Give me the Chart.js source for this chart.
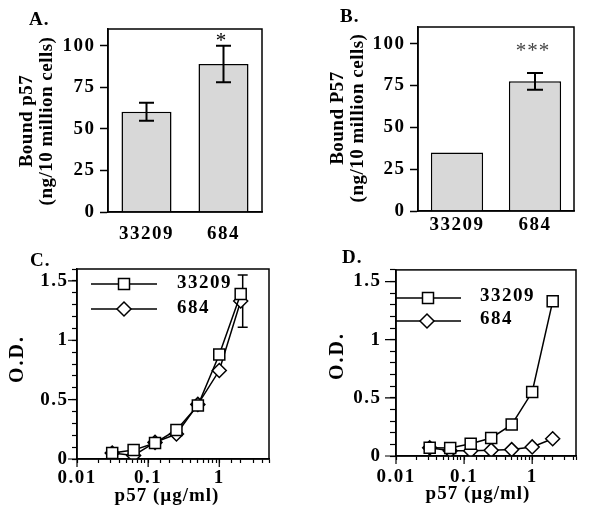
<!DOCTYPE html>
<html>
<head>
<meta charset="utf-8">
<title>p57 binding</title>
<script src="https://cdn.jsdelivr.net/npm/chart.js@4.4.1/dist/chart.umd.min.js"></script>
<style>
  html, body { margin: 0; padding: 0; background: #fff; }
  #fig { position: relative; width: 589px; height: 519px; overflow: hidden; }
  #fig canvas { position: absolute; }
</style>
</head>
<body>
<div id="fig">
  <canvas id="panelA" width="290" height="250" style="left:0;top:0"></canvas>
  <canvas id="panelB" width="299" height="250" style="left:290px;top:0"></canvas>
  <canvas id="panelC" width="290" height="269" style="left:0;top:250px"></canvas>
  <canvas id="panelD" width="299" height="269" style="left:290px;top:250px"></canvas>
</div>
<script>
// --- data ---
const strains = ["33209", "684"];
const boundA = [60.3, 89];      // ng / 10 million cells
const errA = [5.4, 11];
const boundB = [35, 77.5];
const errB = [0, 5];
const sigA = ["", "*"];
const sigB = ["", "***"];
const boundTicks = [0, 25, 50, 75, 100];

const dose = [0.03125, 0.0625, 0.125, 0.25, 0.5, 1, 2];   // p57 ug/ml
const odC33209 = [0.05, 0.075, 0.135, 0.245, 0.45, 0.88, 1.39];
const odC684 = [0.05, 0.03, 0.14, 0.21, 0.46, 0.745, 1.33];
const errC684 = [0, 0, 0, 0, 0, 0, 0.22];
const odD33209 = [0.07, 0.068, 0.105, 0.155, 0.27, 0.55, 1.33];
const odD684 = [0.07, 0.045, 0.045, 0.05, 0.055, 0.078, 0.148];
const odTicks = [0, 0.5, 1, 1.5];
const doseTicks = [0.01, 0.1, 1];

const SERIF = "'Liberation Serif', 'Times New Roman', serif";
const near = (list, v) => list.find(t => Math.abs(t - v) < 1e-9);

function drawMarker(ctx, style, x, y) {
  ctx.beginPath();
  if (style === "rect") {
    ctx.rect(x - 5.5, y - 5.5, 11, 11);
  } else {
    ctx.moveTo(x - 7, y); ctx.lineTo(x, y - 7); ctx.lineTo(x + 7, y); ctx.lineTo(x, y + 7);
    ctx.closePath();
  }
  ctx.fillStyle = "#fff";
  ctx.fill();
  ctx.lineWidth = 1.5;
  ctx.strokeStyle = "#000";
  ctx.stroke();
}

function drawErrors(chart, e) {
  const ctx = chart.ctx;
  const ys = chart.scales.y;
  const meta = chart.getDatasetMeta(e.dataset);
  const vals = chart.data.datasets[e.dataset].data;
  ctx.save();
  ctx.strokeStyle = "#000";
  ctx.lineWidth = e.width;
  e.values.forEach((err, i) => {
    if (!err) return;
    const v = typeof vals[i] === "object" ? vals[i].y : vals[i];
    const x = meta.data[i].x + (e.dx || 0);
    const top = ys.getPixelForValue(v + err);
    const bot = ys.getPixelForValue(v - err);
    ctx.beginPath();
    ctx.moveTo(x, top); ctx.lineTo(x, bot);
    ctx.moveTo(x - e.cap, top); ctx.lineTo(x + e.cap, top);
    ctx.moveTo(x - e.cap, bot); ctx.lineTo(x + e.cap, bot);
    ctx.stroke();
  });
  ctx.restore();
}

// frame, error bars, long major ticks, inset legend and panel texts
function decor(cfg) {
  return {
    id: "decor",
    beforeDraw(chart) { chart.ctx.letterSpacing = "0px"; },
    beforeDatasetsDraw(chart) {
      if (cfg.errors && cfg.errors.behind) drawErrors(chart, cfg.errors);
    },
    afterDatasetsDraw(chart) {
      if (cfg.errors && !cfg.errors.behind) drawErrors(chart, cfg.errors);
      chart.ctx.letterSpacing = "1.5px"; // tick labels (z: 1) are drawn next
    },
    afterDraw(chart) {
      const ctx = chart.ctx;
      const a = chart.chartArea;
      ctx.save();
      ctx.letterSpacing = "0px";
      ctx.strokeStyle = "#000";
      ctx.lineWidth = 1.5;
      ctx.strokeRect(a.left, a.top, a.right - a.left, a.bottom - a.top);

      if (cfg.majors) {
        ctx.lineWidth = 1.2;
        ctx.beginPath();
        cfg.majors.y.forEach(v => {
          const y = chart.scales.y.getPixelForValue(v);
          ctx.moveTo(a.left - cfg.majors.yLen, y); ctx.lineTo(a.left, y);
        });
        cfg.majors.x.forEach(v => {
          const x = chart.scales.x.getPixelForValue(v);
          ctx.moveTo(x, a.bottom); ctx.lineTo(x, a.bottom + cfg.majors.xLen);
        });
        ctx.stroke();
      }

      if (cfg.sig) {
        const meta = chart.getDatasetMeta(0);
        ctx.font = "21px " + SERIF;
        ctx.fillStyle = cfg.sig.color;
        ctx.textAlign = "center";
        ctx.textBaseline = "alphabetic";
        ctx.letterSpacing = "1px";
        cfg.sig.labels.forEach((s, i) => {
          if (!s) return;
          ctx.fillText(s, meta.data[i].x - 2, chart.scales.y.getPixelForValue(cfg.sig.at) + 10);
        });
      }

      (cfg.legend || []).forEach(l => {
        ctx.strokeStyle = "#000";
        ctx.lineWidth = 1.5;
        ctx.beginPath();
        ctx.moveTo(l.x1, l.y); ctx.lineTo(l.x2, l.y);
        ctx.stroke();
        drawMarker(ctx, l.style, l.mx, l.y);
        ctx.font = "bold 19px " + SERIF;
        ctx.fillStyle = "#000";
        ctx.textAlign = "left";
        ctx.textBaseline = "middle";
        ctx.letterSpacing = "1.5px";
        ctx.fillText(l.label, l.tx, l.ty);
      });

      (cfg.texts || []).forEach(t => {
        ctx.save();
        ctx.font = "bold " + (t.size || 19) + "px " + SERIF;
        ctx.fillStyle = "#000";
        ctx.letterSpacing = (t.sp === undefined ? 0.5 : t.sp) + "px";
        ctx.textAlign = t.align || "center";
        ctx.textBaseline = "middle";
        ctx.translate(t.x, t.y);
        if (t.rot) ctx.rotate(t.rot);
        ctx.fillText(t.text, 0, 0);
        ctx.restore();
      });
      ctx.restore();
      ctx.letterSpacing = "0px";
    },
  };
}

const axisBorder = { color: "#000", width: 1.5 };
const tickFont = { family: SERIF, size: 19, weight: "bold" };

function boundChart(id, values, p) {
  return new Chart(document.getElementById(id), {
    type: "bar",
    data: {
      labels: strains,
      datasets: [{
        data: values,
        backgroundColor: "#d8d8d8",
        borderColor: "#000",
        borderWidth: 1.5,
        barPercentage: p.barPct,
        categoryPercentage: 1,
      }],
    },
    options: {
      responsive: false,
      animation: false,
      devicePixelRatio: 1,
      layout: { padding: { left: 0, top: p.top, right: p.right, bottom: 0 } },
      plugins: { legend: { display: false }, tooltip: { enabled: false } },
      scales: {
        x: {
          border: axisBorder,
          grid: { display: false, drawTicks: false },
          ticks: { z: 1, padding: p.xPad, color: "#000", font: tickFont },
          afterFit: s => { s.height = p.xHeight; },
        },
        y: {
          min: 0,
          max: 110,
          border: axisBorder,
          grid: { drawOnChartArea: false, tickLength: 8, tickColor: "#000", tickWidth: 1.5 },
          ticks: { z: 1, padding: 4.5, color: "#000", font: tickFont },
          afterBuildTicks: s => { s.ticks = boundTicks.map(v => ({ value: v })); },
          afterFit: s => { s.width = p.yWidth; },
        },
      },
    },
    plugins: [decor(p.decor)],
  });
}

function doseSeries(label, values, style, radius) {
  return {
    label,
    data: values.map((v, i) => ({ x: dose[i], y: v })),
    borderColor: "#000",
    borderWidth: 1.5,
    pointStyle: style,
    pointRadius: radius,
    pointBorderWidth: 1.5,
    pointBackgroundColor: "#fff",
    pointBorderColor: "#000",
  };
}

function doseChart(id, s33209, s684, p) {
  return new Chart(document.getElementById(id), {
    type: "line",
    data: {
      datasets: [
        doseSeries("33209", s33209, "rect", 7.8),
        doseSeries("684", s684, "rectRot", 7),
      ],
    },
    options: {
      responsive: false,
      animation: false,
      devicePixelRatio: 1,
      layout: { padding: { left: 0, top: p.top, right: p.right, bottom: 0 } },
      plugins: { legend: { display: false }, tooltip: { enabled: false } },
      scales: {
        x: {
          type: "logarithmic",
          min: 0.01,
          max: p.xMax,
          border: axisBorder,
          grid: { drawOnChartArea: false, tickLength: 4, tickColor: "#000", tickWidth: 1.2 },
          ticks: {
            z: 1, autoSkip: false, maxRotation: 0, minRotation: 0,
            padding: p.xPad, color: "#000", font: tickFont,
            callback: v => { const t = near(doseTicks, v); return t === undefined ? "" : String(t); },
          },
          afterFit: s => { s.height = p.xHeight; },
        },
        y: {
          min: 0,
          max: 1.6,
          border: axisBorder,
          grid: { drawOnChartArea: false, tickLength: p.yTick, tickColor: "#000", tickWidth: 1.2 },
          ticks: {
            z: 1, stepSize: 0.1, autoSkip: false, padding: p.yPad, color: "#000", font: tickFont,
            callback: v => { const t = near(odTicks, v); return t === undefined ? "" : String(t); },
          },
          afterFit: s => { s.width = p.yWidth; },
        },
      },
    },
    plugins: [decor(p.decor)],
  });
}

const halfPi = -Math.PI / 2;

boundChart("panelA", boundA, {
  top: 29, right: 28, yWidth: 108, xHeight: 38, xPad: 10.5, barPct: 0.65,
  decor: {
    errors: { dataset: 0, values: errA, cap: 7.5, width: 2 },
    sig: { labels: sigA, at: 105, color: "#000" },
    texts: [
      { text: "A.", x: 29, y: 20, align: "left", sp: 1 },
      { text: "Bound p57", x: 27, y: 121, rot: halfPi },
      { text: "(ng/10 million cells)", x: 47, y: 121, rot: halfPi },
    ],
  },
});

boundChart("panelB", boundB, {
  top: 27, right: 15, yWidth: 128, xHeight: 39, xPad: 2.5, barPct: 0.67,
  decor: {
    errors: { dataset: 0, values: errB, cap: 8, width: 2 },
    sig: { labels: sigB, at: 98, color: "#444" },
    texts: [
      { text: "B.", x: 50, y: 17, align: "left", sp: 1 },
      { text: "Bound P57", x: 48, y: 118, rot: halfPi },
      { text: "(ng/10 million cells)", x: 68, y: 118, rot: halfPi },
    ],
  },
});

doseChart("panelC", odC33209, odC684, {
  top: 19, right: 21, yWidth: 77, xHeight: 60, xMax: 5, xPad: 4, yPad: 3.5, yTick: 5,
  decor: {
    errors: { dataset: 1, values: errC684, cap: 5, width: 1.5, dx: 2, behind: true },
    majors: { y: odTicks, yLen: 9, x: doseTicks, xLen: 8 },
    legend: [
      { style: "rect", label: "33209", x1: 91, x2: 157, y: 34, mx: 124, tx: 177, ty: 33 },
      { style: "rectRot", label: "684", x1: 91, x2: 157, y: 59, mx: 124, tx: 177, ty: 58 },
    ],
    texts: [
      { text: "C.", x: 30, y: 11, align: "left", sp: 1 },
      { text: "O.D.", x: 18, y: 109, rot: halfPi, size: 20, sp: 2 },
      { text: "p57 (\u00b5g/ml)", x: 167, y: 246, sp: 1 },
    ],
  },
});

doseChart("panelD", odD33209, odD684, {
  top: 19, right: 13, yWidth: 106, xHeight: 63, xMax: 4.4, xPad: 6, yPad: 8.5, yTick: 6,
  decor: {
    majors: { y: odTicks, yLen: 11, x: doseTicks, xLen: 8 },
    legend: [
      { style: "rect", label: "33209", x1: 106, x2: 171, y: 48, mx: 138, tx: 190, ty: 46 },
      { style: "rectRot", label: "684", x1: 106, x2: 171, y: 71, mx: 137, tx: 190, ty: 69 },
    ],
    texts: [
      { text: "D.", x: 52, y: 8, align: "left", sp: 1 },
      { text: "O.D.", x: 48, y: 106, rot: halfPi, size: 20, sp: 2 },
      { text: "p57 (\u00b5g/ml)", x: 188, y: 244, sp: 1 },
    ],
  },
});
</script>
</body>
</html>
